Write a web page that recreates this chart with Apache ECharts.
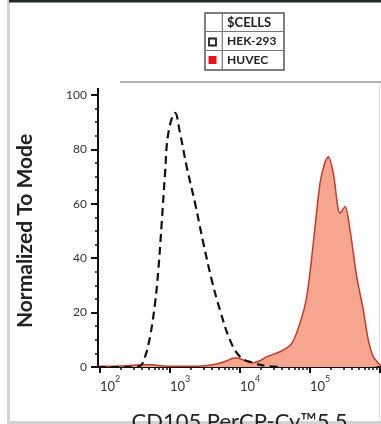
<!DOCTYPE html>
<html><head><meta charset="utf-8">
<script src="https://cdn.jsdelivr.net/npm/echarts@6/dist/echarts.min.js"></script>
<style>html,body{margin:0;padding:0;background:#fff;}#c{width:381px;height:424px;}</style>
</head><body><div id="c"></div><script>
// Data (x in log10 units of fluorescence intensity)
const xTickExponents = [2, 3, 4, 5, 6];
const yTickValues = [0, 20, 40, 60, 80, 100];
const hekLog = [1.97, 2.3, 2.45, 2.571, 2.64, 2.714, 2.786, 2.833, 2.881, 2.929, 2.976, 3.071, 3.143, 3.239, 3.357, 3.476, 3.596, 3.714, 3.857, 4.0, 4.186, 4.381, 4.6];
const hekVal = [0, 0, 0, 0.4, 3.5, 11.1, 23.5, 35.7, 52.9, 71.3, 86, 93.4, 86, 73.5, 60.3, 45.6, 32, 20.9, 9.9, 3.8, 1.5, 0.4, 0];
const huvecLog = [1.97, 2.3, 2.6, 2.75, 2.9, 3.1, 3.3, 3.5, 3.65, 3.8, 3.9, 3.953, 4.05, 4.186, 4.3, 4.381, 4.571, 4.739, 4.857, 4.953, 5.047, 5.143, 5.21, 5.261, 5.333, 5.429, 5.5, 5.571, 5.667, 5.761, 5.833, 5.904, 6.0, 6.014];
const huvecVal = [0.3, 0.4, 0.8, 0.8, 0.4, 0.3, 0.3, 0.5, 1, 2.2, 3.2, 3.3, 2.6, 1.6, 2.5, 3.8, 5.6, 8.7, 16.2, 25.8, 45.6, 67.6, 75, 77.3, 71.2, 56.5, 58.9, 50.4, 33.2, 21, 9.9, 3.8, 0.7, 0.5];
const legendTitle = '$CELLS';
const legendNames = ['HEK-293', 'HUVEC'];
const xTitle = 'CD105 PerCP-Cy™5.5';
const yTitle = 'Normalized To Mode';

const xMin = 1.971, xMax = 6.014;
const minorTicks = [];
for (let n = 1; n <= 6; n++) for (let k = 2; k <= 9; k++) {
  const v = n + Math.log10(k);
  if (v > xMin && v < xMax) minorTicks.push(v);
}
const FONT = 'Lato';
const chart = echarts.init(document.getElementById('c'), null, {renderer: 'canvas'});
const zip = (a, b) => a.map((v, i) => [v, b[i]]);
chart.setOption({
  animation: false,
  backgroundColor: '#fff',
  grid: {left: 98, right: 0, top: 95, bottom: 57, outerBoundsMode: 'none', containLabel: false},
  xAxis: [{
    type: 'value', min: xMin, max: xMax,
    name: xTitle, nameLocation: 'middle', nameGap: 44,
    nameTextStyle: {fontFamily: FONT, fontSize: 22, color: '#222'},
    axisLine: {show: true, onZero: false, lineStyle: {color: '#111', width: 2}},
    axisTick: {show: true, length: 6, lineStyle: {color: '#111', width: 2}, customValues: xTickExponents},
    axisLabel: {show: true, customValues: xTickExponents, margin: 8, align: 'left', hideOverlap: false,
      formatter: v => '{b|10}{s|' + Math.round(v) + '}',
      rich: {b: {fontFamily: FONT, fontSize: 13, color: '#333', lineHeight: 18, verticalAlign: 'bottom'},
             s: {fontFamily: FONT, fontSize: 9, color: '#333', lineHeight: 10, verticalAlign: 'top'}}},
    splitLine: {show: false}
  }, {
    type: 'value', min: xMin, max: xMax, position: 'bottom',
    axisLine: {show: false},
    axisTick: {show: true, length: 3, lineStyle: {color: '#111', width: 1.5}, customValues: minorTicks},
    axisLabel: {show: false}, splitLine: {show: false}
  }],
  yAxis: {
    type: 'value', min: 0, max: 100, interval: 20,
    name: yTitle, nameLocation: 'middle', nameGap: 62,
    nameTextStyle: {fontFamily: FONT, fontSize: 21, fontWeight: 'bold', color: '#222'},
    axisLine: {show: true, lineStyle: {color: '#111', width: 2}},
    axisTick: {show: true, length: 7, lineStyle: {color: '#111', width: 2}},
    minorTick: {show: true, splitNumber: 4, length: 3, lineStyle: {color: '#111', width: 1.5}},
    axisLabel: {fontFamily: FONT, fontSize: 12, color: '#333', margin: 11},
    splitLine: {show: false}
  },
  series: [{
    name: legendNames[1], type: 'line', xAxisIndex: 0, data: zip(huvecLog, huvecVal),
    smooth: 0.3, symbol: 'none',
    lineStyle: {color: '#c23a2c', width: 1.5},
    areaStyle: {color: '#f6a68e', opacity: 1}
  }, {
    name: legendNames[0], type: 'line', xAxisIndex: 0, data: zip(hekLog, hekVal),
    smooth: 0.4, symbol: 'none',
    lineStyle: {color: '#111', width: 2.2, type: [8, 5]}
  }],
  graphic: [
    {type: 'rect', shape: {x: 7, y: 0, width: 3, height: 424}, style: {fill: '#d4d4d4'}, silent: true},
    {type: 'rect', shape: {x: 9, y: 0, width: 372, height: 2.5}, style: {fill: '#1d2b22'}, silent: true},
    {type: 'rect', shape: {x: 7, y: 421, width: 374, height: 3}, style: {fill: '#d2d2d2'}, silent: true},
    {type: 'line', shape: {x1: 120, y1: 82, x2: 381, y2: 82}, style: {stroke: '#9a9a9a', lineWidth: 1.5}, silent: true},
    {type: 'line', shape: {x1: 379.5, y1: 83, x2: 379.5, y2: 421}, style: {stroke: '#e4e4e4', lineWidth: 1}, silent: true},
    {type: 'line', shape: {x1: 98, y1: 88, x2: 98, y2: 95}, style: {stroke: '#111', lineWidth: 2}, silent: true},
    {type: 'group', children: [
      {type: 'rect', shape: {x: 205, y: 13, width: 79, height: 57}, style: {fill: '#fff', stroke: '#555', lineWidth: 1.5}},
      {type: 'line', shape: {x1: 222.3, y1: 13, x2: 222.3, y2: 70}, style: {stroke: '#777', lineWidth: 1.2}},
      {type: 'line', shape: {x1: 205, y1: 31.5, x2: 284, y2: 31.5}, style: {stroke: '#777', lineWidth: 1.2}},
      {type: 'line', shape: {x1: 205, y1: 50.5, x2: 284, y2: 50.5}, style: {stroke: '#777', lineWidth: 1.2}},
      {type: 'rect', shape: {x: 209, y: 38.5, width: 7, height: 7}, style: {fill: '#fff', stroke: '#222', lineWidth: 1.8}},
      {type: 'rect', shape: {x: 208.5, y: 56, width: 8, height: 8}, style: {fill: '#e8121c'}},
      {type: 'text', style: {x: 227, y: 22.5, text: legendTitle, fontFamily: FONT, fontSize: 13, fontWeight: 'bold', fill: '#222', verticalAlign: 'middle'}},
      {type: 'text', style: {x: 227, y: 41.5, text: legendNames[0], fontFamily: FONT, fontSize: 12, fontWeight: 'bold', fill: '#222', verticalAlign: 'middle'}},
      {type: 'text', style: {x: 227, y: 60, text: legendNames[1], fontFamily: FONT, fontSize: 12, fontWeight: 'bold', fill: '#222', verticalAlign: 'middle'}}
    ]}
  ]
});
</script></body></html>
